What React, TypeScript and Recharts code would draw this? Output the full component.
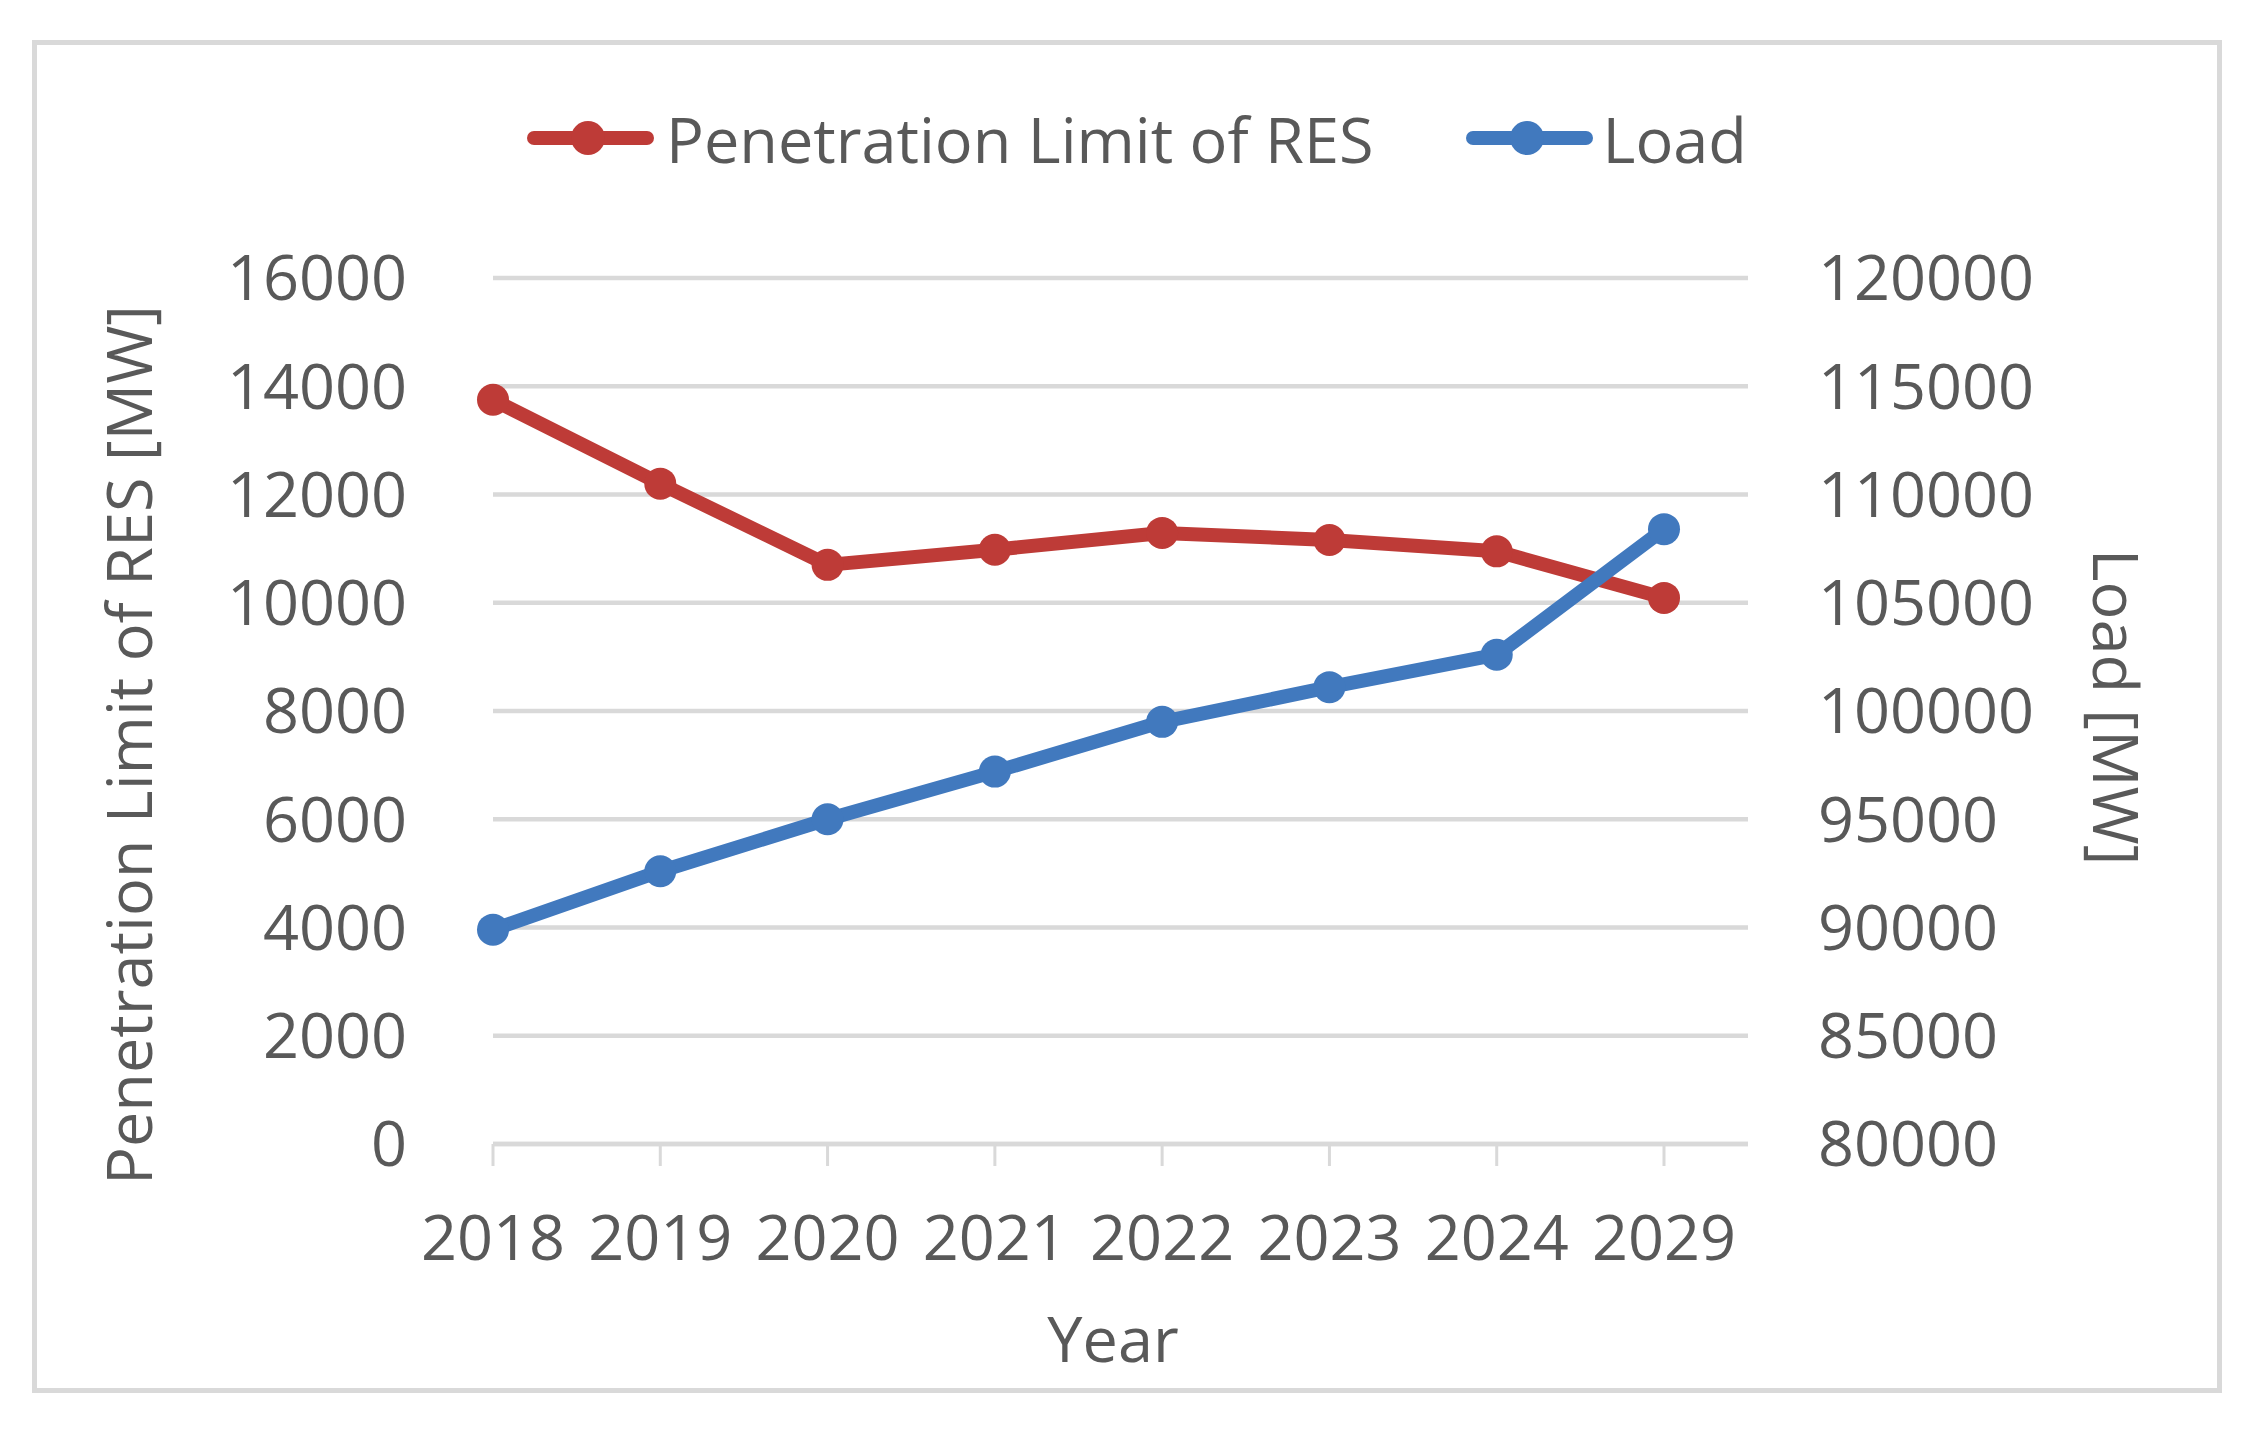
import React from 'react';
import { LineChart, Line, XAxis, YAxis, CartesianGrid, Legend } from 'recharts';

// values
const years = ['2018', '2019', '2020', '2021', '2022', '2023', '2024', '2029'];
const penetrationLimit = [13750, 12200, 10700, 10980, 11290, 11160, 10950, 10090];
const load = [89900, 92600, 95000, 97200, 99500, 101100, 102600, 108400];
const leftTicks = [0, 2000, 4000, 6000, 8000, 10000, 12000, 14000, 16000];
const rightTicks = [80000, 85000, 90000, 95000, 100000, 105000, 110000, 115000, 120000];

const data = years.map((year, i) => ({
  year,
  res: penetrationLimit[i],
  load: load[i],
}));

const RED = '#BE3B37';
const BLUE = '#4179BE';
const GRID = '#D9D9D9';
const TEXT = '#595959';
const FONT = "'Open Sans', sans-serif";
const FS = 63;

const W = 2250;
const H = 1437;

const tickStyle = { fill: TEXT, fontSize: FS, fontFamily: FONT };

const legendItems = [
  { name: 'Penetration Limit of RES', color: RED, gap: 12 },
  { name: 'Load', color: BLUE, gap: 10 },
];

const renderLegend = () => (
  <div
    style={{
      display: 'flex',
      alignItems: 'center',
      height: 76,
      fontFamily: FONT,
      fontSize: FS,
      color: TEXT,
      whiteSpace: 'nowrap',
    }}
  >
    {legendItems.map((item, i) => (
      <div key={item.name} style={{ display: 'flex', alignItems: 'center', marginLeft: i ? 92 : 0 }}>
        <svg width={127} height={40} style={{ display: 'block' }}>
          <line x1={7} x2={120} y1={20} y2={20} stroke={item.color} strokeWidth={14} strokeLinecap="round" />
          <circle cx={61} cy={20} r={17} fill={item.color} />
        </svg>
        <span style={{ marginLeft: item.gap, lineHeight: 1 }}>{item.name}</span>
      </div>
    ))}
  </div>
);

const LeftTitle = () => (
  <text transform="translate(152,745) rotate(-90)" textAnchor="middle" fill={TEXT} fontSize={FS} fontFamily={FONT}>
    Penetration Limit of RES [MW]
  </text>
);

const RightTitle = () => (
  <text transform="translate(2093,707) rotate(90)" textAnchor="middle" fill={TEXT} fontSize={FS} fontFamily={FONT}>
    Load [MW]
  </text>
);

const BottomTitle = () => (
  <text x={1113} y={1362} textAnchor="middle" fill={TEXT} fontSize={FS} fontFamily={FONT}>
    Year
  </text>
);

export default function App() {
  return (
    <div style={{ position: 'absolute', left: 0, top: 0, width: W, height: H, background: '#fff' }}>
      <div
        style={{
          position: 'absolute',
          left: 32,
          top: 40,
          width: 2190,
          height: 1353,
          border: `5px solid ${GRID}`,
          boxSizing: 'border-box',
        }}
      />
      <LineChart width={W} height={H} data={data} margin={{ top: 278, right: 102, bottom: 93, left: 100 }}>
        <CartesianGrid yAxisId="left" vertical={false} stroke={GRID} strokeWidth={4.5} />
        <XAxis
          dataKey="year"
          interval={0}
          height={200}
          padding={{ left: 0, right: 84 }}
          axisLine={{ stroke: GRID, strokeWidth: 4.5 }}
          tickLine={{ stroke: GRID, strokeWidth: 3 }}
          tickSize={22}
          tickMargin={49}
          tick={tickStyle}
          label={BottomTitle}
        />
        <YAxis
          yAxisId="left"
          domain={[0, 16000]}
          ticks={leftTicks}
          width={393}
          axisLine={false}
          tickLine={false}
          tickSize={0}
          tickMargin={86}
          tick={tickStyle}
          label={LeftTitle}
        />
        <YAxis
          yAxisId="right"
          orientation="right"
          domain={[80000, 120000]}
          ticks={rightTicks}
          width={400}
          axisLine={false}
          tickLine={false}
          tickSize={0}
          tickMargin={70}
          tick={tickStyle}
          label={RightTitle}
        />
        <Legend
          layout="horizontal"
          verticalAlign="middle"
          align="center"
          content={renderLegend}
          wrapperStyle={{ left: 527, top: 100, width: 1400, height: 76 }}
        />
        <Line
          yAxisId="left"
          dataKey="res"
          name="Penetration Limit of RES"
          stroke={RED}
          strokeWidth={14}
          strokeLinejoin="round"
          dot={{ r: 16, fill: RED, stroke: RED, strokeWidth: 0 }}
          activeDot={false}
          isAnimationActive={false}
        />
        <Line
          yAxisId="right"
          dataKey="load"
          name="Load"
          stroke={BLUE}
          strokeWidth={14}
          strokeLinejoin="round"
          dot={{ r: 16, fill: BLUE, stroke: BLUE, strokeWidth: 0 }}
          activeDot={false}
          isAnimationActive={false}
        />
      </LineChart>
    </div>
  );
}
